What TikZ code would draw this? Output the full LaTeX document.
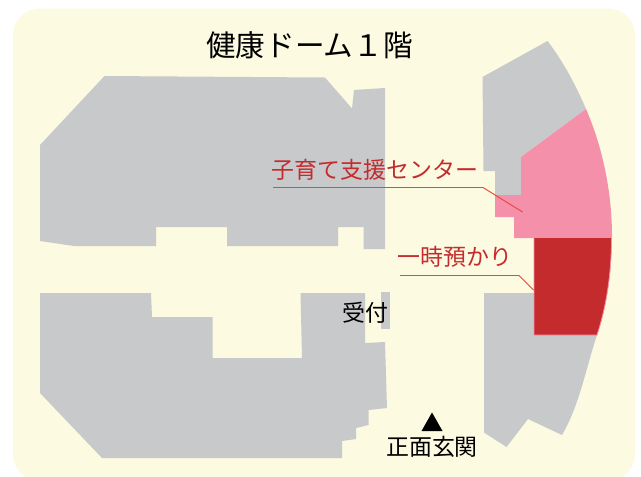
\documentclass[tikz,border=0pt]{standalone}
\usepackage{fontspec}
\setmainfont{Noto Sans CJK JP}
\definecolor{floorbg}{HTML}{FCFAE1}
\definecolor{roomgray}{HTML}{C8C9CB}
\definecolor{carepink}{HTML}{F590AB}
\definecolor{carered}{HTML}{C42B2D}
\definecolor{leadred}{HTML}{E8473A}
\tikzset{
	room/.style={fill=roomgray},
	careroom/.style={fill=carepink},
	label/.style={inner sep=0pt,font=\fontsize{17.2}{20}\selectfont},
	redlabel/.style={label,text=carered},
	leader/.style={draw=leadred,line width=0.7pt}
}
\begin{document}
\begin{tikzpicture}[x=0.75pt,y=-0.75pt]
	\useasboundingbox (0,0) rectangle (641,476);
	\fill[floorbg,rounded corners=20pt] (13,8.5) rectangle (635,481);

	% left wing
	\fill[room] (40,145) -- (104.5,76) -- (325,77.5) -- (352,108.5) -- (354,90) -- (385,88) -- (385,249) -- (363.5,249) -- (363.5,227) -- (338,227) -- (338,246) -- (227,246) -- (227,227) -- (156,227) -- (156,246) -- (74,246) -- (40,241) -- cycle;
	\fill[room] (40,293) -- (151,293) -- (152,317) -- (212.5,317) -- (212.5,358) -- (302,358) -- (300.5,293) -- (365,293) -- (365,343) -- (385,342) -- (387,408) -- (368.5,410) -- (368.5,425) -- (356,428) -- (356,439) -- (342,441) -- (342,458) -- (102,458) -- (40,393) -- cycle;
	\fill[room] (381,292) rectangle (390,329);

	% right wing
	\fill[room] (482.5,77) -- (547.5,41) .. controls (563.3,61.6) and (575.7,85.1) .. (586,109) -- (521,157) -- (521,195) -- (495,195) -- (495,171) -- (483.5,171) -- cycle;
	\fill[room] (484,293) -- (534,293) -- (534,335) -- (597,335) .. controls (586,368) and (579.5,405) .. (562,435) -- (528,419) -- (506.5,447) -- (484,432.5) -- cycle;
	\fill[careroom] (586,109) .. controls (603.3,149) and (612,193.5) .. (612,237) -- (534,237) -- (534,238) -- (514,238) -- (514,217) -- (495,217) -- (495,195) -- (521,195) -- (521,157) -- cycle;
	\draw[fill=carered,draw=carepink,line width=0.6pt] (534,237.5) -- (611.5,237.5) .. controls (611.5,270) and (607.3,303.7) .. (597,335) -- (534,335) -- cycle;

	\node[label,font=\fontsize{22.2}{24}\selectfont] (title) at (309.5,45) {健康ドーム１階};
	\node[redlabel] (kosodate) at (375,170) {子育て支援センター};
	\node[redlabel] (ichiji) at (455,257) {一時預かり};
	\node[label] (uketsuke) at (365,312.5) {受付};
	\node[label] (genkan) at (432,446.5) {正面玄関};

	\coordinate (kosodateA) at (273,187.5);
	\coordinate (kosodateB) at (483,187.5);
	\coordinate (kosodateC) at (522.5,212);
	\coordinate (ichijiA) at (400,275.5);
	\coordinate (ichijiB) at (519,275.5);
	\coordinate (ichijiC) at (533.5,290);
	\draw[leader] (kosodateA) -- (kosodateB) -- (kosodateC);
	\draw[leader] (ichijiA) -- (ichijiB) -- (ichijiC);

	\fill[black] (432,412.5) -- (442.5,431) -- (421.5,431) -- cycle;
\end{tikzpicture}
\end{document}
